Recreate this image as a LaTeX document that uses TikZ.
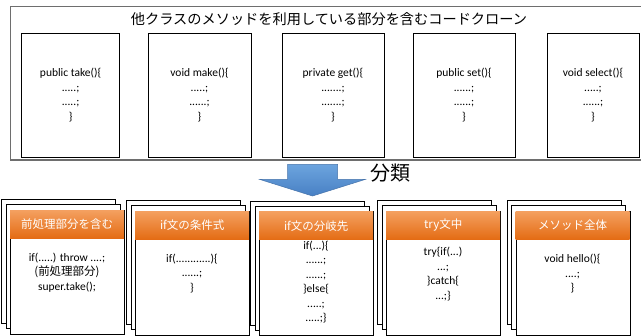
\documentclass[tikz,border=0pt]{standalone}
\usepackage{fontspec}
\setmainfont{Carlito}
\newfontfamily\jp{Noto Sans CJK JP}
\definecolor{hdrtop}{RGB}{244,160,96}
\definecolor{hdrbot}{RGB}{228,108,20}
\definecolor{arrtop}{RGB}{108,164,222}
\definecolor{arrbot}{RGB}{72,128,196}
\definecolor{arrln}{RGB}{70,115,170}
\definecolor{framegray}{RGB}{110,110,110}
\newcommand\mkcard[5]{%
  \node[cardbox, anchor=north west] (#1b1) at (#2-9,#3-10.5) {};
  \node[cardbox, anchor=north west] (#1b2) at (#2-4.5,#3-5.5) {};
  \node[cardbox, anchor=north west] (#1) at (#2,#3) {};
  \node[hdr, anchor=north west] (#1h) at (#2,#3) {#4};
  \node[codetxt] (#1t) at (#2+57,#5) {\csname cardcode#1\endcsname};
}
\begin{document}
\begin{tikzpicture}[x=1pt,y=-1pt,
  topbox/.style={draw=black, line width=0.9pt, minimum height=123.5, inner sep=0pt},
  codetxt/.style={font=\fontsize{11.5}{14.5}\selectfont, align=center, inner sep=0pt},
  cardbox/.style={draw=black, fill=white, line width=0.9pt, minimum width=114, minimum height=124, inner sep=0pt},
  hdr/.style={top color=hdrtop, bottom color=hdrbot, text=white, minimum width=114, minimum height=28, inner sep=0pt, font=\jp\fontsize{11.5}{14}\selectfont}]
\clip (0,0) rectangle (641,336);
\fill[white] (0,0) rectangle (641,336);
% outer frame
\node[draw=framegray, line width=1.4pt, anchor=north west, minimum width=660, minimum height=153.5, inner sep=0pt] (frame) at (9.5,6) {};
\node[font=\jp\fontsize{14.2}{17}\selectfont, inner sep=0pt] (title) at (329,19) {他クラスのメソッドを利用している部分を含むコードクローン};
% top boxes
\node[topbox, minimum width=98] (t1) at (70.6,95.25) {};
\node[topbox, minimum width=103] (t2) at (199.5,95.25) {};
\node[topbox, minimum width=102] (t3) at (333,95.25) {};
\node[topbox, minimum width=102] (t4) at (464,95.25) {};
\node[topbox, minimum width=92] (t5) at (593,95.25) {};
\node[codetxt] (t1c) at (t1) {public take()\{\\.....;\\.....;\\\}};
\node[codetxt] (t2c) at (t2) {void make()\{\\.....;\\......;\\\}};
\node[codetxt] (t3c) at (t3) {private get()\{\\.......;\\.......;\\\}};
\node[codetxt] (t4c) at (t4) {public set()\{\\......;\\......;\\\}};
\node[codetxt] (t5c) at (t5) {void select()\{\\.....;\\......;\\\}};
% arrow
\shade[top color=arrtop, bottom color=arrbot, draw=arrln, line width=0.5pt]
  (287.5,164.5) -- (337.5,164.5) -- (337.5,179.5) -- (365,179.5) -- (312.5,196) -- (260,179.5) -- (287.5,179.5) -- cycle;
\node[font=\jp\fontsize{20}{24}\selectfont, inner sep=0pt] (bunrui) at (390,173) {分類};
% cards
\expandafter\def\csname cardcodec1\endcsname{if(.....) throw ....;\\{\jp (前処理部分)}\\super.take();}
\expandafter\def\csname cardcodec2\endcsname{if(............)\{\\......;\\\}}
\expandafter\def\csname cardcodec3\endcsname{if(...)\{\\......;\\......;\\\}else\{\\.....;\\.....;\}}
\expandafter\def\csname cardcodec4\endcsname{try\{if(...)\\...;\\\}catch\{\\...;\}}
\expandafter\def\csname cardcodec5\endcsname{void hello()\{\\....;\\\}}
\mkcard{c1}{10}{210}{前処理部分を含む}{272.5}
\mkcard{c2}{135}{211}{if文の条件式}{273.5}
\mkcard{c3}{259}{211.5}{if文の分岐先}{282}
\mkcard{c4}{386}{211}{try文中}{274}
\mkcard{c5}{515.5}{211}{メソッド全体}{274}
\end{tikzpicture}
\end{document}
